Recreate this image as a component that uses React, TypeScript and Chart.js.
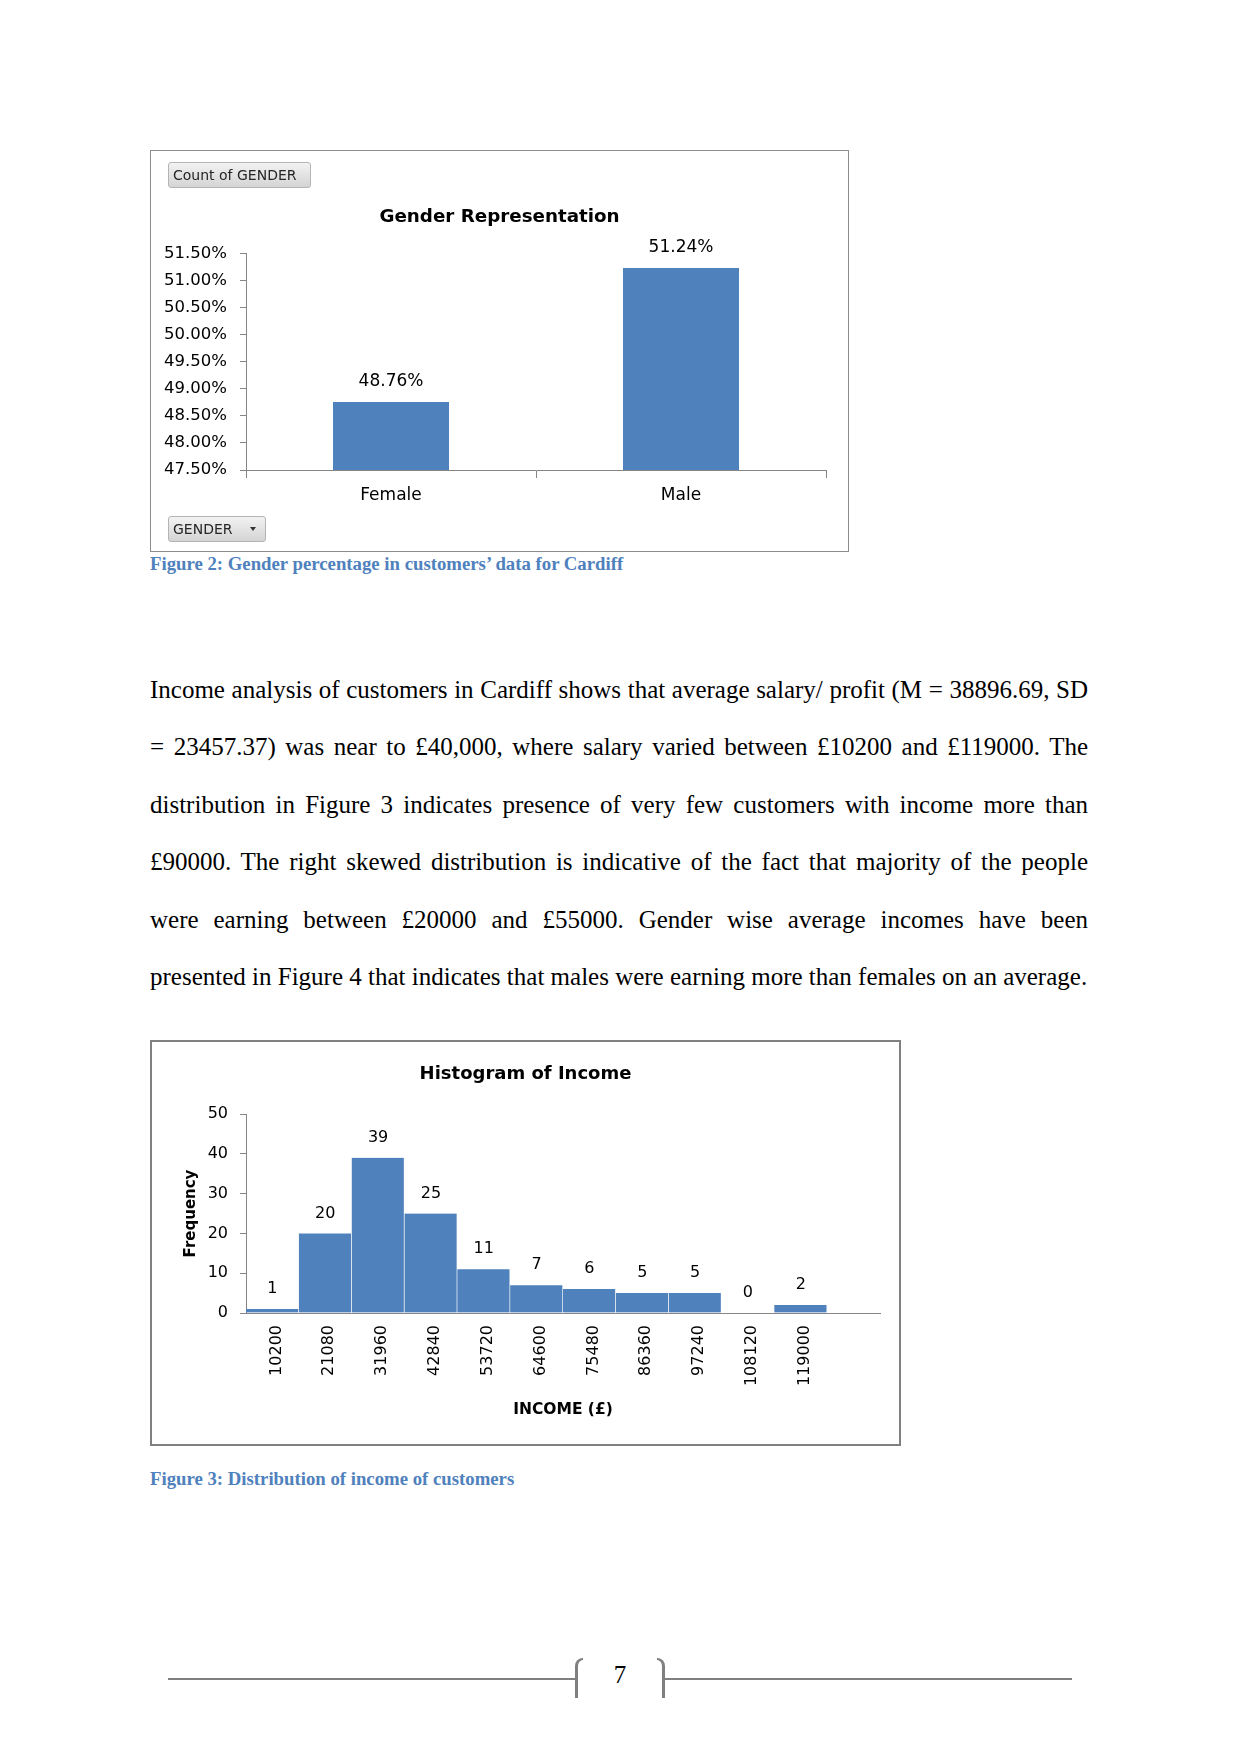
import React, { useEffect, useRef } from 'react';
import { Chart, registerables } from 'chart.js';

Chart.register(...registerables);

// ---------- Data ----------
const genderCategories = ['Female', 'Male'];
const genderShares = [48.76, 51.24];
const genderAxisMin = 47.5;
const genderAxisMax = 51.5;
const genderAxisStep = 0.5;

const incomeBins = ['10200', '21080', '31960', '42840', '53720', '64600', '75480', '86360', '97240', '108120', '119000', ''];
const incomeFrequency = [1, 20, 39, 25, 11, 7, 6, 5, 5, 0, 2, null];
const frequencyAxisMax = 50;
const frequencyAxisStep = 10;

const paragraphLines = [
  'Income analysis of customers in Cardiff shows that average salary/ profit (M = 38896.69, SD',
  '= 23457.37) was near to £40,000, where salary varied between £10200 and £119000. The',
  'distribution in Figure 3 indicates presence of very few customers with income more than',
  '£90000. The right skewed distribution is indicative of the fact that majority of the people',
  'were earning between £20000 and £55000. Gender wise average incomes have been',
  'presented in Figure 4 that indicates that males were earning more than females on an average.',
];

const SANS = "'DejaVu Sans', 'Verdana', sans-serif";
const SERIF = "'Liberation Serif', 'Times New Roman', serif";
const BAR = '#4F81BD';
const AXIS = '#868686';

function makeValueLabels(id: string, format: (v: number) => string, font: string, offset: number) {
  return {
    id,
    afterDatasetsDraw(chart: any) {
      const ctx = chart.ctx;
      const meta = chart.getDatasetMeta(0);
      const data = chart.data.datasets[0].data;
      ctx.save();
      ctx.font = font;
      ctx.fillStyle = '#000';
      ctx.textAlign = 'center';
      ctx.textBaseline = 'middle';
      meta.data.forEach((el: any, i: number) => {
        const v = data[i];
        if (v === null || v === undefined) return;
        ctx.fillText(format(v), el.x, el.y - offset);
      });
      ctx.restore();
    },
  };
}

// an empty right-hand axis that only reserves space, so the full-width title stays centred on the box
function spacerAxis(width: number) {
  return {
    axis: 'y',
    type: 'linear',
    position: 'right',
    display: true,
    grid: { display: false, drawTicks: false },
    border: { display: false },
    ticks: { display: false },
    afterFit: (s: any) => { s.width = width; },
  };
}

function GenderChart() {
  const ref = useRef<HTMLCanvasElement | null>(null);
  useEffect(() => {
    if (!ref.current) return;
    const chart = new Chart(ref.current, {
      type: 'bar',
      data: {
        labels: genderCategories,
        datasets: [
          {
            data: genderShares,
            backgroundColor: BAR,
            borderWidth: 0,
            barPercentage: 0.4,
            categoryPercentage: 1,
          },
        ],
      },
      options: {
        responsive: false,
        animation: false,
        events: [],
        layout: { padding: { left: 0, right: 0, top: 2.5, bottom: 0 } },
        plugins: {
          legend: { display: false },
          tooltip: { enabled: false },
          title: {
            display: true,
            text: 'Gender Representation',
            color: '#000',
            font: { family: SANS, size: 18.3, weight: 'bold', lineHeight: 1.2 },
            padding: { top: 53.2, bottom: 25.2 },
          },
        },
        scales: {
          x: {
            type: 'category',
            grid: { display: true, drawOnChartArea: false, drawTicks: true, tickLength: 8, color: AXIS, offset: true },
            border: { display: true, color: AXIS },
            ticks: { color: '#000', font: { family: SANS, size: 17 }, padding: 7 },
            afterFit: (s: any) => { s.height = 81; },
          },
          y: {
            min: genderAxisMin,
            max: genderAxisMax,
            grid: { display: true, drawOnChartArea: false, drawTicks: true, tickLength: 6, color: AXIS },
            border: { display: true, color: AXIS },
            ticks: {
              stepSize: genderAxisStep,
              color: '#000',
              font: { family: SANS, size: 16.5 },
              padding: 13,
              callback: (v: any) => Number(v).toFixed(2) + '%',
            },
            afterFit: (s: any) => { s.width = 95; },
          },
          ySpacer: spacerAxis(22),
        },
      },
      plugins: [makeValueLabels('genderLabels', (v) => v.toFixed(2) + '%', `17px ${SANS}`, 20)],
    } as any);
    return () => chart.destroy();
  }, []);
  return (
    <canvas
      ref={ref}
      width={697}
      height={400}
      style={{ position: 'absolute', left: 151, top: 151, width: 697, height: 400 }}
    />
  );
}

function IncomeChart() {
  const ref = useRef<HTMLCanvasElement | null>(null);
  useEffect(() => {
    if (!ref.current) return;
    const chart = new Chart(ref.current, {
      type: 'bar',
      data: {
        labels: incomeBins,
        datasets: [
          {
            data: incomeFrequency,
            backgroundColor: BAR,
            borderColor: '#ffffff',
            borderWidth: { left: 0, right: 1, top: 0, bottom: 0 },
            barPercentage: 1,
            categoryPercentage: 1,
          },
        ],
      },
      options: {
        responsive: false,
        animation: false,
        events: [],
        layout: { padding: { left: 0, right: 0, top: 2, bottom: 0 } },
        plugins: {
          legend: { display: false },
          tooltip: { enabled: false },
          title: {
            display: true,
            text: 'Histogram of Income',
            color: '#000',
            font: { family: SANS, size: 18, weight: 'bold', lineHeight: 1.2 },
            padding: { top: 19.2, bottom: 29.2 },
          },
        },
        scales: {
          x: {
            type: 'category',
            grid: { display: false, drawTicks: false },
            border: { display: true, color: AXIS },
            ticks: {
              autoSkip: false,
              minRotation: 90,
              maxRotation: 90,
              color: '#000',
              font: { family: SANS, size: 16 },
              padding: 12,
              labelOffset: 4,
            },
            title: {
              display: true,
              text: 'INCOME (£)',
              color: '#000',
              font: { family: SANS, size: 15.5, weight: 'bold', lineHeight: 1.2 },
              padding: { top: 0, bottom: 24.7 },
            },
            afterFit: (s: any) => { s.height = 131; },
          },
          y: {
            min: 0,
            max: frequencyAxisMax,
            grid: { display: true, drawOnChartArea: false, drawTicks: true, tickLength: 6, color: AXIS },
            border: { display: true, color: AXIS },
            ticks: {
              stepSize: frequencyAxisStep,
              color: '#000',
              font: { family: SANS, size: 16 },
              padding: 12,
            },
            title: {
              display: true,
              text: 'Frequency',
              color: '#000',
              font: { family: SANS, size: 15, weight: 'bold', lineHeight: 1.2 },
              padding: { top: 30, bottom: 0 },
            },
            afterFit: (s: any) => { s.width = 94; },
          },
          ySpacer: spacerAxis(19),
        },
      },
      plugins: [makeValueLabels('incomeLabels', (v) => String(v), `16px ${SANS}`, 20)],
    } as any);
    return () => chart.destroy();
  }, []);
  return (
    <canvas
      ref={ref}
      width={747}
      height={402}
      style={{ position: 'absolute', left: 152, top: 1042, width: 747, height: 402 }}
    />
  );
}

const buttonStyle: React.CSSProperties = {
  position: 'absolute',
  boxSizing: 'border-box',
  height: 26,
  border: '1px solid #b4b4b4',
  borderRadius: 3,
  background: 'linear-gradient(#f2f2f2, #d4d4d4)',
  fontFamily: SANS,
  fontSize: 14,
  color: '#262626',
  lineHeight: '24px',
  paddingLeft: 4,
  whiteSpace: 'nowrap',
};

const captionStyle: React.CSSProperties = {
  position: 'absolute',
  left: 150,
  fontFamily: SERIF,
  fontWeight: 'bold',
  fontSize: 18.75,
  lineHeight: '22px',
  color: '#4F81BD',
  whiteSpace: 'nowrap',
};

export default function App() {
  return (
    <div style={{ position: 'absolute', left: 0, top: 0, width: 1241, height: 1754, background: '#fff', overflow: 'hidden' }}>
      {/* Figure 2 */}
      <div style={{ position: 'absolute', left: 150, top: 150, width: 699, height: 402, boxSizing: 'border-box', border: '1px solid #8c8c8c' }} />
      <GenderChart />
      <div style={{ ...buttonStyle, left: 168, top: 162, width: 143 }}>Count of GENDER</div>
      <div style={{ ...buttonStyle, left: 168, top: 516, width: 98 }}>
        GENDER
        <span style={{ position: 'absolute', left: 81, top: 10, width: 0, height: 0, borderLeft: '3.5px solid transparent', borderRight: '3.5px solid transparent', borderTop: '4px solid #333' }} />
      </div>
      <div style={{ ...captionStyle, top: 553 }}>Figure 2: Gender percentage in customers’ data for Cardiff</div>

      {/* Paragraph */}
      <div style={{ position: 'absolute', left: 150, top: 660.5, width: 938, fontFamily: SERIF, fontSize: 25, lineHeight: '57.5px', color: '#000' }}>
        {paragraphLines.map((line, i) => (
          <div
            key={i}
            style={{
              textAlign: i === paragraphLines.length - 1 ? 'left' : 'justify',
              textAlignLast: i === paragraphLines.length - 1 ? 'left' : 'justify',
              whiteSpace: 'nowrap',
            } as React.CSSProperties}
          >
            {line}
          </div>
        ))}
      </div>

      {/* Figure 3 */}
      <div style={{ position: 'absolute', left: 150, top: 1040, width: 751, height: 406, boxSizing: 'border-box', border: '2px solid #808080' }} />
      <IncomeChart />
      <div style={{ ...captionStyle, top: 1468 }}>Figure 3: Distribution of income of customers</div>

      {/* Footer */}
      <div style={{ position: 'absolute', left: 168, top: 1678, width: 408, height: 2, background: '#7f7f7f' }} />
      <div style={{ position: 'absolute', left: 575, top: 1658, width: 8, height: 40, boxSizing: 'border-box', borderLeft: '3px solid #7f7f7f', borderTop: '2px solid #7f7f7f', borderTopLeftRadius: 8 }} />
      <div style={{ position: 'absolute', left: 600, top: 1660, width: 40, textAlign: 'center', fontFamily: SERIF, fontSize: 25, lineHeight: '30px', color: '#000' }}>7</div>
      <div style={{ position: 'absolute', left: 657, top: 1658, width: 8, height: 40, boxSizing: 'border-box', borderRight: '3px solid #7f7f7f', borderTop: '2px solid #7f7f7f', borderTopRightRadius: 8 }} />
      <div style={{ position: 'absolute', left: 665, top: 1678, width: 407, height: 2, background: '#7f7f7f' }} />
    </div>
  );
}
